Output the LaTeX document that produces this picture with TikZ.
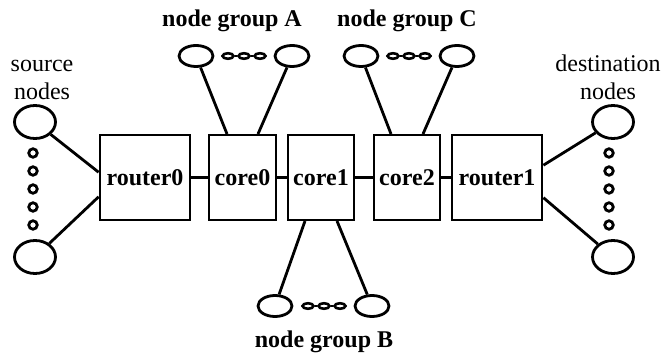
\documentclass[tikz,border=0pt]{standalone}
\usepackage{fontspec}
\setmainfont{Liberation Serif}
\usetikzlibrary{shapes.geometric,calc}
\tikzset{
  lw/.style={line width=2.8pt},
  box/.style={draw,lw,rectangle,inner sep=0pt,minimum width=#1,minimum height=85pt,
     font=\fontsize{24}{27}\selectfont\bfseries},
  big/.style={draw,lw,ellipse,inner sep=0pt,minimum width=41pt,minimum height=33pt},
  grp/.style={draw,lw,ellipse,inner sep=0pt,minimum width=34pt,minimum height=21pt},
  oval/.style={draw,line width=2.6pt,ellipse,inner sep=0pt,minimum width=11pt,minimum height=5.5pt},
  dot/.style={draw,line width=2.8pt,circle,inner sep=0pt,minimum size=8.5pt},
  lab/.style={font=\fontsize{24}{27}\selectfont,align=center,inner sep=0pt},
  blab/.style={font=\fontsize{24}{27}\selectfont\bfseries,inner sep=0pt},
  link/.style={lw}
}
\begin{document}
\begin{tikzpicture}[x=1pt,y=-1pt]
\useasboundingbox (0,0) rectangle (663,355);
% boxes
\node[box=90pt] (r0) at (145,177.5) {router0};
\node[box=67pt] (c0) at (242.5,177.5) {core0};
\node[box=66pt] (c1) at (321,177.5) {core1};
\node[box=66pt] (c2) at (407,177.5) {core2};
\node[box=90pt] (r1) at (497,177.5) {router1};
\draw[link] (r0) -- (c0);
\draw[link] (c0) -- (c1);
\draw[link] (c1) -- (c2);
\draw[link] (c2) -- (r1);
% source nodes
\node[lab,anchor=base] (srcl) at (42,72) {source};
\node[lab,anchor=base] (srcl2) at (42,100) {nodes};
\node[big] (s1) at (35,122) {};
\node[big] (s2) at (35,257) {};
\foreach \i/\y in {1/153,2/171,3/189,4/207,5/225} \node[dot] (sd\i) at (33,\y) {};
\coordinate (r0a) at ($(r0.north west)!0.44!(r0.south west)$);
\coordinate (r0b) at ($(r0.north west)!0.72!(r0.south west)$);
\draw[link] (s1) -- (r0a);
\draw[link] (s2) -- (r0b);
% destination nodes
\node[lab,anchor=base] (dstl) at (608,72) {destination};
\node[lab,anchor=base] (dstl2) at (608,100) {nodes};
\node[big] (d1) at (613,122) {};
\node[big] (d2) at (613,257) {};
\foreach \i/\y in {1/153,2/171,3/189,4/207,5/225} \node[dot] (dd\i) at (609,\y) {};
\coordinate (r1a) at ($(r1.north east)!0.36!(r1.south east)$);
\coordinate (r1b) at ($(r1.north east)!0.73!(r1.south east)$);
\draw[link] (d1) -- (r1a);
\draw[link] (d2) -- (r1b);
% group A
\node[blab,anchor=base] (la) at (232,27) {node group A};
\node[grp] (a1) at (196,56) {};
\node[grp] (a2) at (292,56) {};
\foreach \i/\x in {1/228,2/244,3/260} \node[oval] (ao\i) at (\x,56) {};
\draw[line width=2.4pt] (ao1) -- (ao2) -- (ao3);
\coordinate (c0a) at (227,134);
\coordinate (c0b) at (258,134);
\draw[link] (a1) -- (c0a);
\draw[link] (a2) -- (c0b);
% group C
\node[blab,anchor=base] (lc) at (407,27) {node group C};
\node[grp] (cc1) at (361,56) {};
\node[grp] (cc2) at (457,56) {};
\foreach \i/\x in {1/393,2/409,3/425} \node[oval] (co\i) at (\x,56) {};
\draw[line width=2.4pt] (co1) -- (co2) -- (co3);
\coordinate (c2a) at (391,134);
\coordinate (c2b) at (423,134);
\draw[link] (cc1) -- (c2a);
\draw[link] (cc2) -- (c2b);
% group B
\node[blab,anchor=base] (lb) at (324,347) {node group B};
\node[grp] (b1) at (275,306) {};
\node[grp] (b2) at (372,306) {};
\foreach \i/\x in {1/308,2/324,3/340} \node[oval] (bo\i) at (\x,306) {};
\draw[line width=2.4pt] (bo1) -- (bo2) -- (bo3);
\coordinate (c1a) at (305,221);
\coordinate (c1b) at (337,221);
\draw[link] (b1) -- (c1a);
\draw[link] (b2) -- (c1b);
\end{tikzpicture}
\end{document}
